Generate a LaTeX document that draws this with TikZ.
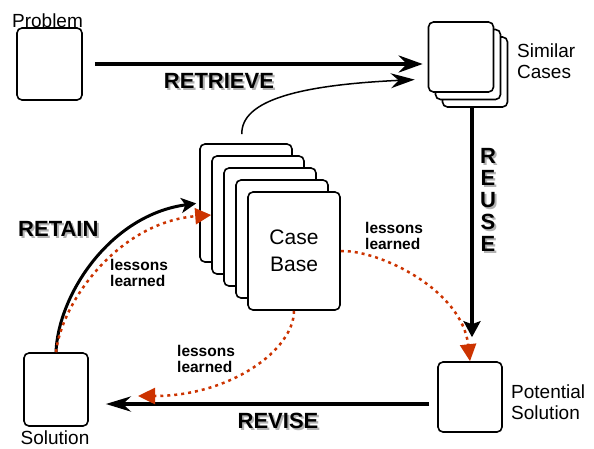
\documentclass[tikz,border=0pt]{standalone}
\usepackage{fontspec}
\setmainfont{Liberation Sans}
\usepackage{tikz}
\usetikzlibrary{
  arrows.meta,
  positioning
}

\definecolor{lessonred}{RGB}{204,51,0}
\newcommand{\shadowed}[1]{\rlap{\kern2pt\raisebox{-2pt}{\color{black!30}#1}}#1}

\tikzset{
  box/.style={rectangle,draw=black,fill=white,line width=1.6pt,rounded corners=5pt,inner sep=0pt},
  txt/.style={font=\fontsize{19}{21}\selectfont,align=left,inner sep=0pt},
  big/.style={font=\fontsize{22}{22}\selectfont\bfseries,inner sep=0pt},
  small/.style={font=\fontsize{15.5}{15.5}\selectfont\bfseries,align=left,inner sep=0pt},
  red dots/.style={draw=lessonred,line width=2.5pt,dash pattern=on 3pt off 4pt}
}

\begin{document}
\begin{tikzpicture}[x=1pt,y=-1pt]
  \useasboundingbox (0,0) rectangle (594,448);
  % boxes
  \node[box,minimum width=65pt,minimum height=72pt] (0) at (49.5,64) {};
  \node[txt,anchor=base] (11) at (47.5,27) {Problem};
  \node[box,minimum width=65pt,minimum height=70pt] (3) at (475,72) {};
  \node[box,minimum width=65pt,minimum height=70pt] (2) at (468,64.5) {};
  \node[box,minimum width=65pt,minimum height=70pt] (1) at (461,57) {};
  \node[txt,anchor=west] (12) at (517,61) {Similar\\Cases};
  \node[box,minimum width=92pt,minimum height=118pt] (8) at (246,203) {};
  \node[box,minimum width=92pt,minimum height=118pt] (7) at (258,215) {};
  \node[box,minimum width=92pt,minimum height=118pt] (6) at (270,227) {};
  \node[box,minimum width=92pt,minimum height=118pt] (5) at (282,239) {};
  \node[box,minimum width=92pt,minimum height=118pt,font=\fontsize{21}{27}\selectfont,align=center] (4) at (294,251) {Case\\Base};
  \node[box,minimum width=64pt,minimum height=73pt] (9) at (56,389.5) {};
  \node[txt,anchor=base] (13) at (55,444.5) {Solution};
  \node[box,minimum width=64pt,minimum height=70pt] (10) at (470,397) {};
  \node[txt,anchor=west] (14) at (511,402) {Potential\\Solution};
  \coordinate (15) at (138,396);
  % black arrows
  \draw[line width=4pt,-{Stealth[length=24pt,width=17pt,inset=8pt]},shorten <=12pt,shorten >=5pt] (0.east) -- (0.east -| 1.west);
  \draw[line width=1.5pt,-{Stealth[length=24pt,width=15pt,inset=8pt]},shorten <=9pt,shorten >=13pt] ([xshift=-4pt]8.north) .. controls (241,100) and (300,85) .. ([yshift=-22pt]1.west);
  \draw[line width=4pt,-{Stealth[length=16pt,width=17pt,inset=3pt]},shorten >=24pt] ([xshift=-3pt]3.south) -- ([xshift=-3pt]3.south |- 10.north);
  \draw[line width=4pt,-{Stealth[length=25pt,width=15pt,inset=8pt]},shorten <=8pt,shorten >=17pt] ([yshift=-7pt]10.west) -- ([yshift=-7pt]10.west -| 9.east);
  \draw[line width=3pt,-{Stealth[length=15pt,width=15pt,inset=4pt]},shorten >=3pt] (9.north) .. controls (58,295) and (110,215) .. (8.west);
  % lessons learned
  \draw[red dots,-{Triangle[length=16pt,width=16pt]}] (9.north) .. controls (62,300) and (120,222) .. (7.west);
  \draw[red dots,-{Triangle[length=17pt,width=16pt]}] (4.east) .. controls (380,250) and (462,290) .. (10.north);
  \draw[red dots,-{Triangle[length=17pt,width=16pt]}] (4.south) .. controls (294,350) and (230,396) .. (15);
  \node[small,anchor=west] (16) at (110,273) {lessons\\learned};
  \node[small,anchor=west] (17) at (365,236) {lessons\\learned};
  \node[small,anchor=west] (18) at (177,359) {lessons\\learned};
  % step labels
  \node[big,anchor=base] (19) at (219,88) {\shadowed{RETRIEVE}};
  \node[big,align=center] (20) at (488,201) {\shadowed{R}\\\shadowed{E}\\\shadowed{U}\\\shadowed{S}\\\shadowed{E}};
  \node[big,anchor=base] (21) at (278,428) {\shadowed{REVISE}};
  \node[big,anchor=base west] (22) at (18,236) {\shadowed{RETAIN}};
\end{tikzpicture}
\end{document}
